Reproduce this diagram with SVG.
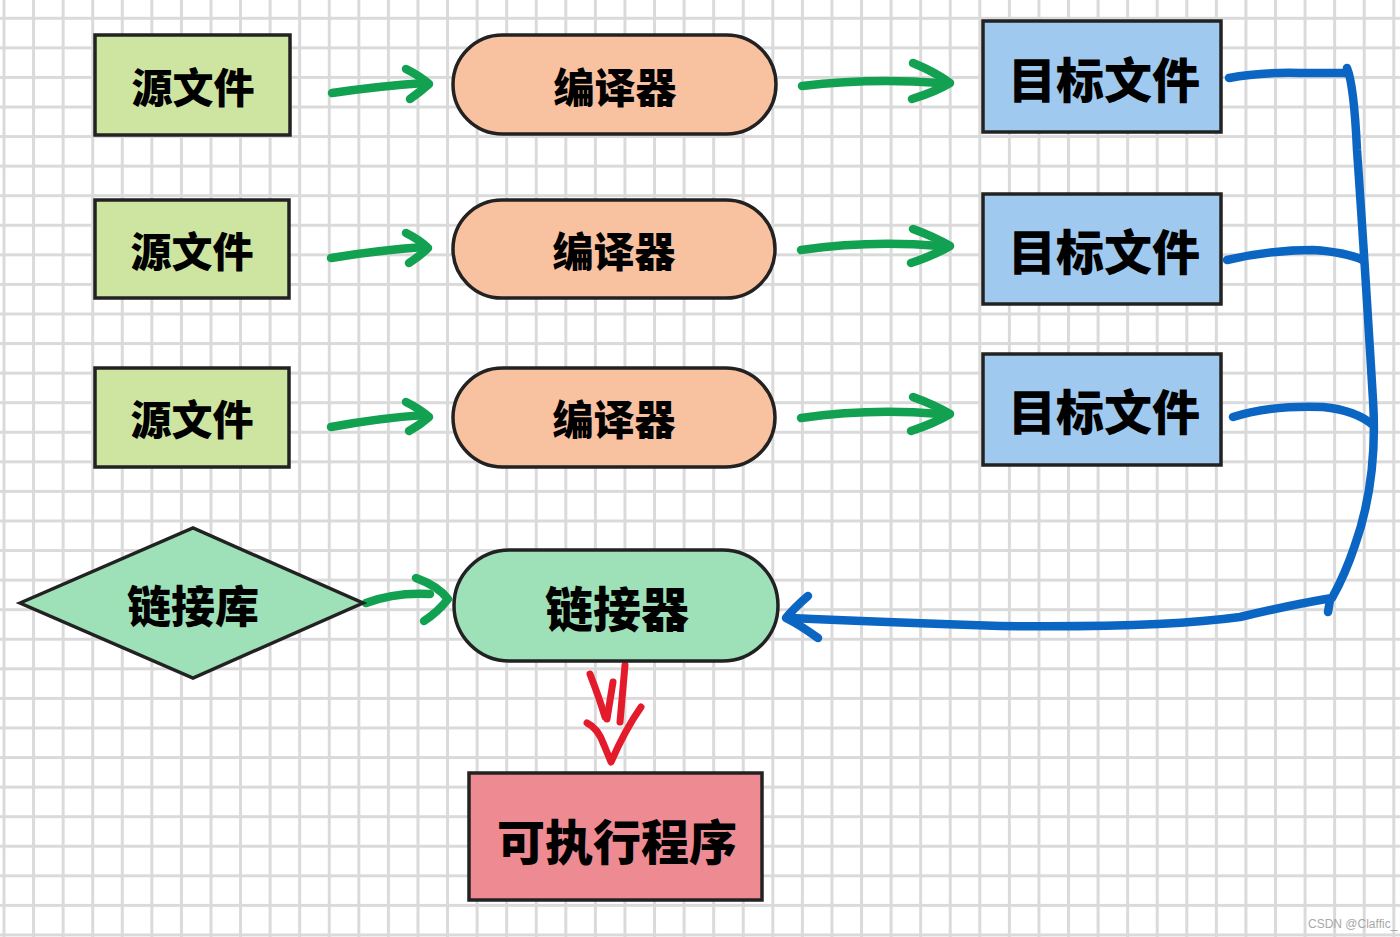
<svg xmlns="http://www.w3.org/2000/svg" width="1400" height="937" viewBox="0 0 1400 937">
<defs>
<pattern id="grid" patternUnits="userSpaceOnUse" x="2.5" y="16.8" width="29.57" height="29.57">
<rect x="0" y="0" width="3" height="29.57" fill="#dadada"/>
<rect x="0" y="0" width="29.57" height="3" fill="#dadada"/>
</pattern>
</defs>
<style>
.node{stroke:#222;stroke-width:3.5}
.src{fill:#cde5a1}
.cmp{fill:#f8c19f}
.obj{fill:#9fc9ee}
.lnk{fill:#9ee0b8}
.exe{fill:#ee8a92}
.t{font-family:"Noto Sans CJK SC","Noto Sans CJK JP",sans-serif;font-weight:900;fill:#000;text-anchor:middle;dominant-baseline:central}
.g{fill:none;stroke:#12a150;stroke-width:8.5;stroke-linecap:round;stroke-linejoin:round}
.b{fill:none;stroke:#0b65c2;stroke-width:8.5;stroke-linecap:round;stroke-linejoin:round}
.r{fill:none;stroke:#e41b2b;stroke-width:7;stroke-linecap:round;stroke-linejoin:round}
</style>
<rect width="1400" height="937" fill="#ffffff"/>
<rect width="1400" height="937" fill="url(#grid)"/>

<g id="connectors">
<path class="g" d="M332,93 Q380,86 424,83"/>
<path class="g" d="M406,69 Q420,76 429,84 Q420,92 410,99"/>
<path class="g" d="M802,86 Q870,78 940,83"/>
<path class="g" d="M913,63 Q935,72 950,83 Q935,92 912,99"/>
<path class="g" d="M331,258 Q380,250 424,247"/>
<path class="g" d="M406,233 Q420,240 428,248 Q420,256 409,263"/>
<path class="g" d="M801,250 Q870,240 940,246"/>
<path class="g" d="M913,229 Q935,237 950,246 Q935,255 911,263"/>
<path class="g" d="M331,427 Q380,418 424,415"/>
<path class="g" d="M406,402 Q420,409 429,417 Q420,425 409,431"/>
<path class="g" d="M801,418 Q870,408 940,414"/>
<path class="g" d="M913,397 Q935,405 950,414 Q935,423 911,431"/>
<path class="g" d="M366,603 Q395,592 430,594"/>
<path class="g" d="M416,578 Q438,586 448,599 Q438,612 424,621"/>

<path class="b" d="M1229,78 Q1260,72 1300,73 L1346,73"/>
<path class="b" d="M1347,68 Q1354,85 1357,150 Q1364,250 1373,400 Q1378,480 1355,545 Q1345,575 1332,598 Q1290,605 1240,617 Q1160,628 1000,626 Q880,622 790,618"/>
<path class="b" d="M808,596 Q795,607 786,618 Q800,625 818,638"/>
<path class="b" d="M1227,260 Q1270,250 1313,250 Q1345,252 1363,260"/>
<path class="b" d="M1233,417 Q1270,405 1323,407 Q1355,410 1373,425"/>
<path class="b" d="M1330,600 L1328,612"/>

<path class="r" d="M590,674 Q600,700 605,717"/>
<path class="r" d="M613,682 L607,719"/>
<path class="r" d="M625,665 L620,722"/>
<path class="r" d="M587,723 Q598,728 604,745 L611,762 Q625,730 641,707"/>
</g>

<g id="src1"><rect class="node src" x="95" y="35" width="195" height="100"/><text class="t" x="193" y="85" font-size="41">源文件</text></g>
<g id="src2"><rect class="node src" x="95" y="200" width="194" height="98"/><text class="t" x="192" y="249" font-size="41">源文件</text></g>
<g id="src3"><rect class="node src" x="95" y="368" width="194" height="99"/><text class="t" x="192" y="417" font-size="41">源文件</text></g>

<g id="cmp1"><rect class="node cmp" x="453" y="35" width="323" height="99" rx="49.5"/><text class="t" x="615" y="85" font-size="41">编译器</text></g>
<g id="cmp2"><rect class="node cmp" x="453" y="200" width="322" height="98" rx="49"/><text class="t" x="614" y="249" font-size="41">编译器</text></g>
<g id="cmp3"><rect class="node cmp" x="453" y="368" width="322" height="99" rx="49.5"/><text class="t" x="614" y="417" font-size="41">编译器</text></g>

<g id="obj1"><rect class="node obj" x="983" y="21" width="238" height="111"/><text class="t" x="1104" y="77" font-size="48">目标文件</text></g>
<g id="obj2"><rect class="node obj" x="983" y="194" width="238" height="110"/><text class="t" x="1104" y="249" font-size="48">目标文件</text></g>
<g id="obj3"><rect class="node obj" x="983" y="354" width="238" height="111"/><text class="t" x="1104" y="409" font-size="48">目标文件</text></g>

<g id="lib"><polygon class="node lnk" points="20,603 193,528 363,603 193,678"/><text class="t" x="193" y="604" font-size="44">链接库</text></g>

<g id="linker"><rect class="node lnk" x="454" y="550" width="324" height="111" rx="55.5"/><text class="t" x="617" y="606" font-size="48">链接器</text></g>

<g id="exe"><rect class="node exe" x="469" y="773" width="293" height="127"/><text class="t" x="617" y="839" font-size="48">可执行程序</text></g>

<text x="1308" y="928" font-family="Liberation Sans, Arial, sans-serif" font-size="12" fill="#a8a8a8">CSDN @Claffic_</text>
</svg>
